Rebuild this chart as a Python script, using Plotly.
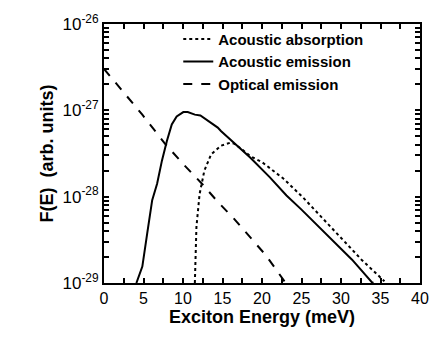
import plotly.graph_objects as go

# Optical emission (dashed)
opt_E = [0.0, 2.5, 4.85, 7.76, 10.0, 12.4, 14.4, 16.5, 18.5, 20.5, 23.0]
opt_logF = [-26.52, -26.79, -27.05, -27.39, -27.62, -27.85, -28.06, -28.26, -28.465, -28.68, -29.0]

# Acoustic emission (solid)
ae_E = [4.1, 4.85, 5.47, 6.1, 6.72, 7.34, 7.96, 8.58, 9.2, 10.04, 10.6, 11.5, 12.2, 13.15, 14.4, 14.8, 16.47, 16.9, 18.5,
        21.0, 23.1, 25.0, 26.8, 28.9, 31.4, 33.9, 34.1]
ae_logF = [-29.0, -28.81, -28.426, -28.04, -27.85, -27.58, -27.355, -27.163, -27.07, -27.02, -27.02, -27.05, -27.06, -27.125,
           -27.2, -27.24, -27.374, -27.41, -27.547, -27.776, -27.986, -28.15, -28.31, -28.503, -28.73, -28.99, -29.0]

# Acoustic absorption (dotted)
aa_E = [11.5, 11.55, 11.7, 12.1, 12.7, 13.56, 14.8, 16.0, 16.47, 17.3, 18.5, 20.0, 21.0, 22.7, 25.2, 27.7, 30.15, 32.6, 35.5]
aa_logF = [-29.0, -28.7, -28.35, -27.97, -27.70, -27.51, -27.41, -27.374, -27.385, -27.44, -27.53, -27.60, -27.67, -27.79,
           -28.01, -28.254, -28.503, -28.73, -28.98]

# tick positions (labels only on the major ones)
x_tickvals = [0, 2.5, 5, 7.5, 10, 12.5, 15, 17.5, 20, 22.5, 25, 27.5, 30, 32.5, 35, 37.5, 40]
x_ticktext = ["0", "", "5", "", "10", "", "15", "", "20", "", "25", "", "30", "", "35", "", "40"]
y_major = {-29: "10<sup>-29</sup>", -28: "10<sup>-28</sup>", -27: "10<sup>-27</sup>", -26: "10<sup>-26</sup>"}
y_tickvals = []
y_ticktext = []
for d in (-29, -28, -27):
    for m in range(1, 10):
        y_tickvals.append(m * 10.0 ** d)
        y_ticktext.append(y_major[d] if m == 1 else "")
y_tickvals.append(1e-26)
y_ticktext.append(y_major[-26])

font = "Liberation Sans, Arial, Helvetica, sans-serif"

fig = go.Figure()
fig.add_trace(go.Scatter(x=aa_E, y=[10 ** v for v in aa_logF], mode="lines",
                         name="Acoustic absorption",
                         line=dict(color="black", width=2, dash="dot")))
fig.add_trace(go.Scatter(x=ae_E, y=[10 ** v for v in ae_logF], mode="lines",
                         name="Acoustic emission",
                         line=dict(color="black", width=2, dash="solid")))
fig.add_trace(go.Scatter(x=opt_E, y=[10 ** v for v in opt_logF], mode="lines",
                         name="Optical emission",
                         line=dict(color="black", width=2, dash="dash")))

fig.update_layout(
    width=441, height=339,
    margin=dict(l=104, r=15, t=22, b=56),
    paper_bgcolor="white", plot_bgcolor="white",
    font=dict(family=font, color="black", size=16),
    showlegend=True,
    legend=dict(x=0.235, y=1.005, xanchor="left", yanchor="top",
                bgcolor="rgba(0,0,0,0)", borderwidth=0,
                font=dict(family=font, size=15, weight="bold"),
                tracegroupgap=0),
    xaxis=dict(range=[0, 40], tickmode="array", tickvals=x_tickvals, ticktext=x_ticktext,
               ticks="inside", ticklen=5, tickwidth=1.5, tickcolor="black",
               showline=True, linewidth=2, linecolor="black", mirror="ticks",
               gridcolor="white", zerolinecolor="white",
               tickfont=dict(size=16),
               title=dict(text="<b>Exciton Energy (meV)</b>", font=dict(size=18), standoff=4)),
    yaxis=dict(type="log", range=[-29, -26], tickmode="array", tickvals=y_tickvals, ticktext=y_ticktext,
               ticks="inside", ticklen=5, tickwidth=1.5, tickcolor="black",
               showline=True, linewidth=2, linecolor="black", mirror="ticks",
               gridcolor="white", zerolinecolor="white",
               tickfont=dict(size=17),
               title=dict(text="<b>F(E)  (arb. units)</b>", font=dict(size=18), standoff=4)),
)

fig.write_html("out.html")
